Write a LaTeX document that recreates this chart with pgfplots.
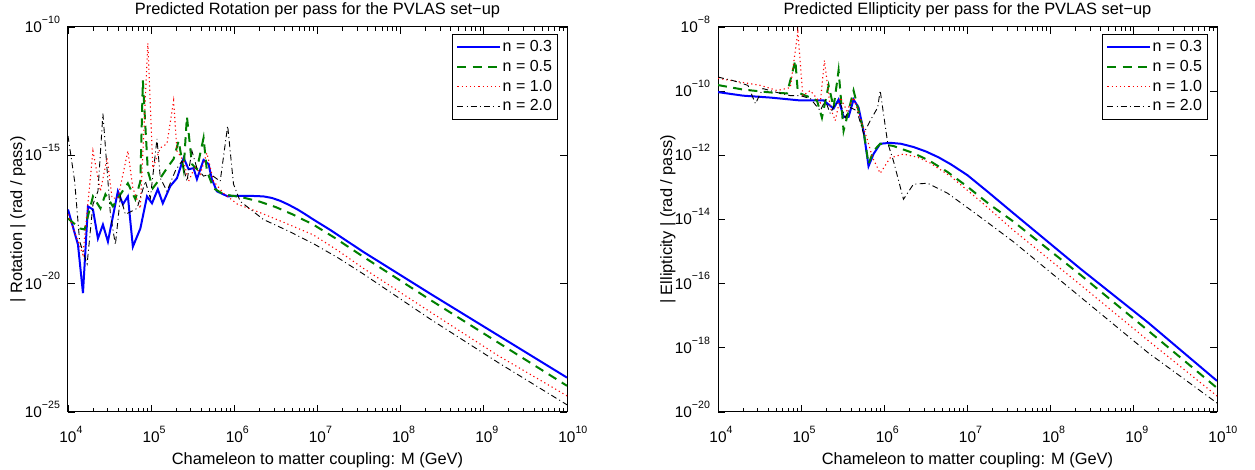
\documentclass[border=0pt]{standalone}
\usepackage{pgfplots}
\pgfplotsset{compat=1.18}
\usepackage{fontspec}
\setmainfont{Liberation Sans}
\newcommand{\xtl}[1]{10\rlap{\raisebox{0.6em}{\fontsize{5.3}{6}\selectfont #1}}}
\newcommand{\ytl}[1]{10\raisebox{0.6em}{\fontsize{5.3}{6}\selectfont #1}}
\definecolor{mblue}{rgb}{0,0,1}
\definecolor{mgreen}{rgb}{0,0.5,0}
\definecolor{mred}{rgb}{1,0,0}
\pgfplotsset{
  mstyle/.style={
    scale only axis, width=249.5pt, height=192.5pt,
    xmin=4, xmax=10,
    xtick={4,5,6,7,8,9,10},
    xticklabels={\xtl{4},\xtl{5},\xtl{6},\xtl{7},\xtl{8},\xtl{9},\xtl{10}},
    minor xtick={4.301,4.477,4.602,4.699,4.778,4.845,4.903,4.954,
                 5.301,5.477,5.602,5.699,5.778,5.845,5.903,5.954,
                 6.301,6.477,6.602,6.699,6.778,6.845,6.903,6.954,
                 7.301,7.477,7.602,7.699,7.778,7.845,7.903,7.954,
                 8.301,8.477,8.602,8.699,8.778,8.845,8.903,8.954,
                 9.301,9.477,9.602,9.699,9.778,9.845,9.903,9.954},
    major tick length=3.5pt, minor tick length=2pt,
    tick style={black, line width=0.4pt},
    axis line style={line width=0.5pt},
    tick label style={font=\fontsize{7.7}{8}\selectfont},
    xticklabel style={anchor=base, yshift=-15.2pt},
    yticklabel style={anchor=base east, yshift=-2.75pt, xshift=-0.5pt},
    every axis title/.style={at={(axis description cs:0.5,1)}, anchor=base, yshift=6pt, font=\fontsize{8.2}{9}\selectfont},
    every axis x label/.style={at={(axis description cs:0.5,0)}, anchor=base, yshift=-26.5pt, font=\fontsize{8.2}{9}\selectfont},
    every axis y label/.style={at={(axis description cs:-0.092,0.5)}, rotate=90, anchor=base, font=\fontsize{8.2}{9}\selectfont},
    legend cell align=left,
    legend style={at={(axis description cs:1,1)}, anchor=north east, xshift=-4.5pt, yshift=-3.5pt,
      font=\fontsize{8}{9}\selectfont, draw=black, line width=0.5pt, inner sep=2pt, row sep=1.5pt,
      nodes={inner sep=0.7pt}},
    legend image code/.code={\draw[#1] (0pt,0pt) -- (21.5pt,0pt);},
    clip=true,
  },
  s1/.style={mblue, line width=1pt, solid},
  s2/.style={mgreen, line width=1pt, dash pattern=on 4.5pt off 3.2pt},
  s3/.style={mred, line width=0.55pt, dash pattern=on 0.6pt off 1.5pt},
  s4/.style={black, line width=0.45pt, dash pattern=on 3pt off 1.6pt on 0.5pt off 1.6pt},
}
\begin{document}
\begin{tikzpicture}
\path[use as bounding box] (0,0) rectangle (627.5pt,235pt);
% ---------------- Left: rotation ----------------
\begin{axis}[mstyle, at={(34pt,29pt)}, anchor=south west,
  ymin=-25, ymax=-10, ytick={-25,-20,-15,-10},
  yticklabels={\ytl{−25},\ytl{−20},\ytl{−15},\ytl{−10}},
  title={Predicted Rotation per pass for the PVLAS set−up},
  xlabel={Chameleon to matter coupling: M (GeV)},
  ylabel={| Rotation | (rad / pass)}]
\addplot[s1] coordinates {
(4.0,-17.11)(4.12,-18.48)(4.18,-20.37)(4.24,-16.99)(4.30,-17.11)(4.36,-18.24)(4.42,-17.70)(4.48,-18.36)
(4.60,-16.40)(4.66,-16.91)(4.72,-16.60)(4.78,-18.56)(4.87,-17.85)(4.95,-16.60)(5.01,-16.87)(5.08,-16.32)
(5.14,-16.87)(5.23,-16.20)(5.31,-15.89)(5.39,-15.10)(5.45,-15.54)(5.51,-15.50)(5.55,-15.93)(5.63,-15.18)
(5.69,-15.34)(5.73,-15.93)(5.79,-16.40)(5.92,-16.60)(6.0,-16.58)(6.2,-16.58)(6.35,-16.60)(6.45,-16.66)
(6.55,-16.77)(6.65,-16.92)(6.76,-17.11)(6.85,-17.29)(6.95,-17.50)(7.16,-17.92)(7.35,-18.33)(7.55,-18.76)
(8.36,-20.40)(9.17,-22.01)(10.0,-23.66)};
\addlegendentry{n = 0.3}
\addplot[s2] coordinates {
(4.0,-17.46)(4.145,-17.85)(4.20,-17.89)(4.30,-16.60)(4.39,-17.07)(4.45,-16.52)(4.54,-16.99)(4.63,-16.52)
(4.72,-16.09)(4.81,-16.71)(4.87,-16.01)(4.90,-12.08)(4.96,-15.61)(5.02,-16.28)(5.11,-15.89)(5.19,-15.50)
(5.27,-15.14)(5.33,-14.44)(5.39,-15.54)(5.43,-13.49)(5.49,-15.34)(5.55,-15.54)(5.63,-14.32)(5.67,-15.61)
(5.75,-16.28)(5.87,-16.52)(6.1,-16.64)(6.3,-16.80)(6.5,-17.02)(6.7,-17.30)(6.95,-17.70)(7.2,-18.20)
(7.55,-18.95)(8.36,-20.64)(9.17,-22.29)(10.0,-23.98)};
\addlegendentry{n = 0.5}
\addplot[s3] coordinates {
(4.0,-17.30)(4.18,-18.87)(4.30,-14.83)(4.39,-16.40)(4.47,-15.10)(4.53,-16.67)(4.60,-16.67)(4.72,-14.83)
(4.78,-16.28)(4.87,-17.07)(4.96,-10.63)(5.02,-15.50)(5.11,-14.71)(5.19,-14.55)(5.27,-12.87)(5.31,-14.83)
(5.39,-15.22)(5.45,-16.01)(5.53,-15.42)(5.59,-15.73)(5.67,-14.91)(5.75,-16.01)(5.87,-16.48)(6.04,-16.91)
(6.3,-17.22)(6.6,-17.62)(6.95,-18.10)(7.25,-18.72)(7.55,-19.40)(8.36,-21.11)(9.17,-22.80)(10.0,-24.37)};
\addlegendentry{n = 1.0}
\addplot[s4] coordinates {
(4.0,-14.24)(4.08,-16.01)(4.14,-18.36)(4.23,-19.23)(4.30,-16.91)(4.36,-16.40)(4.42,-13.38)(4.51,-17.30)
(4.57,-18.48)(4.63,-16.60)(4.69,-17.30)(4.83,-17.07)(4.93,-16.01)(4.99,-16.67)(5.07,-14.36)(5.11,-15.89)
(5.19,-16.40)(5.29,-15.61)(5.37,-15.22)(5.43,-16.01)(5.49,-14.83)(5.55,-15.50)(5.63,-15.81)(5.71,-15.73)
(5.83,-16.01)(5.92,-13.85)(5.99,-16.12)(6.07,-16.79)(6.35,-17.50)(6.65,-17.95)(6.95,-18.44)(7.25,-19.00)
(7.55,-19.62)(8.36,-21.39)(9.17,-23.07)(10.0,-24.72)};
\addlegendentry{n = 2.0}
\end{axis}
% ---------------- Right: ellipticity ----------------
\begin{axis}[mstyle, at={(359pt,29pt)}, anchor=south west,
  ymin=-20, ymax=-8, ytick={-20,-18,-16,-14,-12,-10,-8},
  yticklabels={\ytl{−20},\ytl{−18},\ytl{−16},\ytl{−14},\ytl{−12},\ytl{−10},\ytl{−8}},
  title={Predicted Ellipticity per pass for the PVLAS set−up},
  xlabel={Chameleon to matter coupling: M (GeV)},
  ylabel={| Ellipticity | (rad / pass)}]
\addplot[s1] coordinates {
(4.0,-10.03)(4.30,-10.14)(4.63,-10.20)(4.99,-10.29)(5.27,-10.29)(5.39,-10.54)(5.45,-10.26)(5.51,-10.80)
(5.57,-10.80)(5.63,-10.26)(5.69,-10.51)(5.75,-11.24)(5.81,-12.34)(5.87,-11.96)(5.95,-11.64)(6.07,-11.61)
(6.2,-11.64)(6.35,-11.74)(6.5,-11.88)(6.65,-12.06)(6.8,-12.28)(7.0,-12.62)(7.25,-13.15)(7.55,-13.80)
(8.36,-15.54)(9.17,-17.21)(10.0,-19.03)};
\addlegendentry{n = 0.3}
\addplot[s2] coordinates {
(4.0,-9.81)(4.30,-9.95)(4.63,-10.04)(4.83,-10.07)(4.93,-9.04)(4.96,-10.04)(5.11,-10.20)(5.19,-10.29)
(5.25,-10.83)(5.33,-9.82)(5.39,-10.51)(5.45,-9.35)(5.51,-11.24)(5.57,-10.61)(5.63,-9.98)(5.69,-10.61)
(5.75,-11.24)(5.81,-12.27)(5.87,-11.86)(5.95,-11.64)(6.11,-11.71)(6.35,-11.93)(6.55,-12.18)(6.76,-12.52)
(7.0,-12.98)(7.25,-13.50)(7.55,-14.06)(8.36,-15.73)(9.17,-17.46)(10.0,-19.25)};
\addlegendentry{n = 0.5}
\addplot[s3] coordinates {
(4.0,-9.60)(4.30,-9.73)(4.51,-9.82)(4.71,-9.98)(4.87,-9.89)(4.96,-8.15)(5.02,-10.14)(5.11,-9.98)
(5.23,-10.36)(5.28,-9.04)(5.35,-10.51)(5.41,-10.92)(5.47,-10.20)(5.55,-10.61)(5.63,-10.20)(5.71,-10.83)
(5.80,-11.55)(5.86,-12.08)(5.92,-12.40)(5.95,-12.56)(6.07,-12.08)(6.23,-11.96)(6.4,-12.06)(6.55,-12.24)
(6.8,-12.66)(7.16,-13.44)(7.55,-14.33)(8.36,-16.04)(9.17,-17.77)(10.0,-19.50)};
\addlegendentry{n = 1.0}
\addplot[s4] coordinates {
(4.0,-9.56)(4.18,-9.67)(4.36,-9.82)(4.45,-10.39)(4.54,-9.92)(4.71,-10.04)(4.87,-10.14)(4.99,-10.14)
(5.11,-10.23)(5.23,-10.61)(5.29,-10.29)(5.35,-10.70)(5.41,-10.39)(5.47,-10.36)(5.53,-10.83)(5.59,-10.51)
(5.67,-10.61)(5.75,-11.33)(5.83,-10.92)(5.92,-10.51)(5.95,-9.98)(6.04,-11.61)(6.11,-12.18)(6.23,-13.37)
(6.35,-12.90)(6.52,-12.87)(6.76,-13.18)(7.1,-13.82)(7.55,-14.69)(8.36,-16.42)(9.17,-18.15)(10.0,-19.72)};
\addlegendentry{n = 2.0}
\end{axis}
\end{tikzpicture}
\end{document}
